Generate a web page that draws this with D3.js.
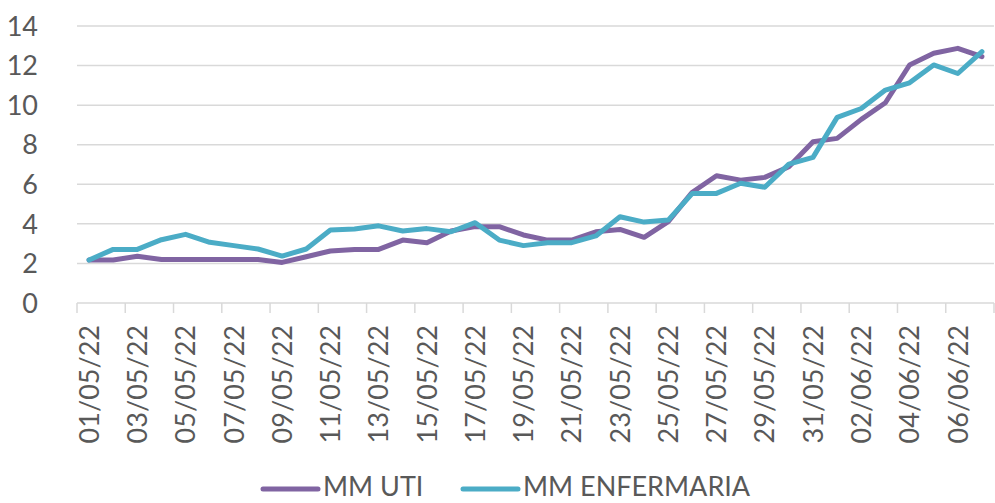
<!DOCTYPE html>
<html>
<head>
<meta charset="utf-8">
<script src="https://cdn.jsdelivr.net/npm/d3@7"></script>
<style>
  body { margin: 0; background: #fff; }
  text { font-family: Lato, "Open Sans", sans-serif; fill: #595959; }
</style>
</head>
<body>
<div class="canvas"></div>
<script>
const dates = ['01/05/22','02/05/22','03/05/22','04/05/22','05/05/22','06/05/22','07/05/22','08/05/22',
  '09/05/22','10/05/22','11/05/22','12/05/22','13/05/22','14/05/22','15/05/22','16/05/22','17/05/22',
  '18/05/22','19/05/22','20/05/22','21/05/22','22/05/22','23/05/22','24/05/22','25/05/22','26/05/22',
  '27/05/22','28/05/22','29/05/22','30/05/22','31/05/22','01/06/22','02/06/22','03/06/22','04/06/22',
  '05/06/22','06/06/22','07/06/22'];

const uti = [2.17, 2.17, 2.36, 2.2, 2.2, 2.2, 2.2, 2.2, 2.05, 2.34, 2.63, 2.71, 2.71, 3.18, 3.05, 3.64,
  3.86, 3.86, 3.44, 3.18, 3.18, 3.6, 3.72, 3.32, 4.11, 5.6, 6.43, 6.21, 6.35, 6.89, 8.15, 8.32, 9.28,
  10.12, 12.03, 12.62, 12.87, 12.45];

const enfermaria = [2.17, 2.71, 2.71, 3.2, 3.47, 3.07, 2.9, 2.73, 2.37, 2.73, 3.69, 3.74, 3.9, 3.64,
  3.76, 3.6, 4.06, 3.18, 2.9, 3.05, 3.05, 3.39, 4.36, 4.09, 4.19, 5.54, 5.54, 6.05, 5.85, 7.02, 7.36,
  9.38, 9.83, 10.76, 11.13, 12.03, 11.6, 12.7];

const yTicks = [0, 2, 4, 6, 8, 10, 12, 14];

const series = [
  {name: 'MM UTI', values: uti, colour: '#8064A2'},
  {name: 'MM ENFERMARIA', values: enfermaria, colour: '#4BACC6'}
];

const dims = {width: 995, height: 503};
const margin = {left: 77, right: 1, top: 26, bottom: 200};

const svg = d3.select('.canvas')
  .append('svg')
  .attr('width', dims.width)
  .attr('height', dims.height);

const x = d3.scaleBand()
  .domain(dates)
  .range([margin.left, dims.width - margin.right]);

const y = d3.scaleLinear()
  .domain([0, 14])
  .range([dims.height - margin.bottom, margin.top]);

// gridlines
svg.append('g')
  .selectAll('line')
  .data(yTicks.filter(d => d > 0))
  .enter().append('line')
    .attr('x1', margin.left)
    .attr('x2', dims.width - margin.right)
    .attr('y1', d => y(d))
    .attr('y2', d => y(d))
    .attr('stroke', '#d9d9d9')
    .attr('stroke-width', 1.5);

// y labels
svg.append('g')
  .selectAll('text')
  .data(yTicks)
  .enter().append('text')
    .attr('x', 38)
    .attr('y', d => y(d))
    .attr('dy', '0.36em')
    .attr('text-anchor', 'end')
    .attr('font-size', 27)
    .text(d => d);

// x axis line + ticks between categories every 2
const xAxis = svg.append('g');
xAxis.append('line')
  .attr('x1', margin.left)
  .attr('x2', dims.width - margin.right)
  .attr('y1', y(0))
  .attr('y2', y(0))
  .attr('stroke', '#d9d9d9')
  .attr('stroke-width', 1.5);

xAxis.selectAll('.tick')
  .data(dates.filter((d, i) => i % 2 === 0).concat(['end']))
  .enter().append('line')
    .attr('class', 'tick')
    .attr('x1', d => d === 'end' ? x.range()[1] : x(d))
    .attr('x2', d => d === 'end' ? x.range()[1] : x(d))
    .attr('y1', y(0))
    .attr('y2', y(0) + 10)
    .attr('stroke', '#d9d9d9')
    .attr('stroke-width', 1.5);

xAxis.selectAll('.lbl')
  .data(dates.filter((d, i) => i % 2 === 0))
  .enter().append('text')
    .attr('class', 'lbl')
    .attr('transform', d => `translate(${x(d) + x.bandwidth() / 2}, ${y(0) + 22}) rotate(-90)`)
    .attr('dy', '0.36em')
    .attr('text-anchor', 'end')
    .attr('font-size', 27)
    .text(d => d);

// lines
const line = d3.line()
  .x((d, i) => x(dates[i]) + x.bandwidth() / 2)
  .y(d => y(d));

svg.append('g')
  .selectAll('path')
  .data(series)
  .enter().append('path')
    .attr('d', d => line(d.values))
    .attr('fill', 'none')
    .attr('stroke', d => d.colour)
    .attr('stroke-width', 5)
    .attr('stroke-linejoin', 'round')
    .attr('stroke-linecap', 'round');

// legend
const legendX = [263, 463];
const legend = svg.append('g')
  .selectAll('g')
  .data(series)
  .enter().append('g')
    .attr('transform', (d, i) => `translate(${legendX[i]}, 489)`);

legend.append('line')
  .attr('x1', 0)
  .attr('x2', 55)
  .attr('stroke', d => d.colour)
  .attr('stroke-width', 5)
  .attr('stroke-linecap', 'round');

legend.append('text')
  .attr('x', 60)
  .attr('y', 7)
  .attr('font-size', 27)
  .text(d => d.name);
</script>
</body>
</html>
